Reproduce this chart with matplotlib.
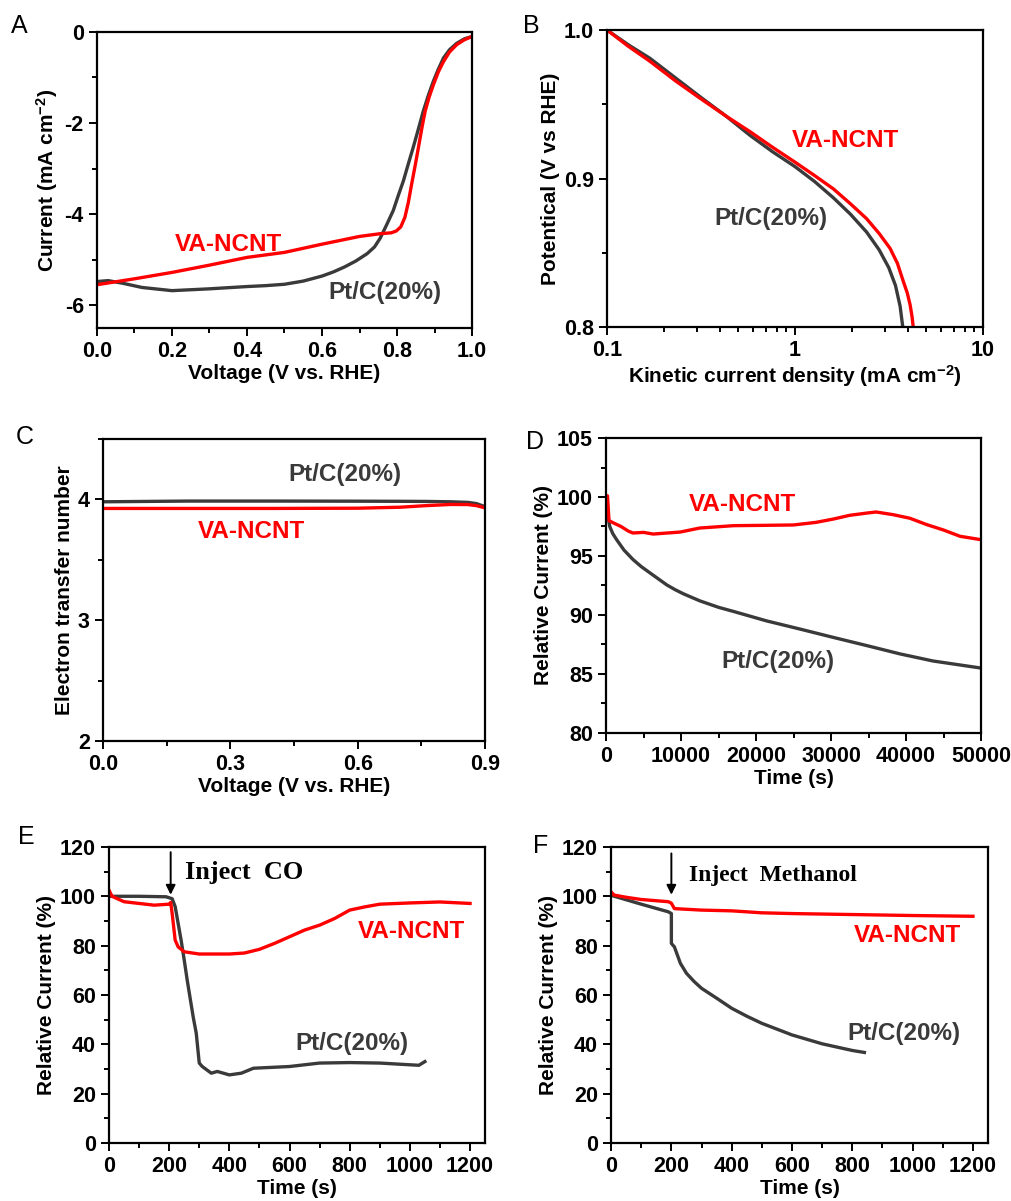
import matplotlib
matplotlib.use("Agg")
import matplotlib.pyplot as plt
import matplotlib.ticker as ticker

# --- Data --------------------------------------------------------------------

# A: LSV curves
a_ncnt_v = [0.0, 0.1, 0.2, 0.3, 0.4, 0.5, 0.6, 0.7, 0.755, 0.785, 0.798, 0.81,
            0.821, 0.83, 0.839, 0.848, 0.857, 0.866, 0.875, 0.886, 0.897, 0.91,
            0.924, 0.94, 0.959, 0.98, 1.0]
a_ncnt_i = [-5.55, -5.42, -5.28, -5.12, -4.95, -4.84, -4.66, -4.49, -4.43, -4.41,
            -4.37, -4.28, -4.07, -3.75, -3.34, -2.95, -2.54, -2.12, -1.74, -1.42,
            -1.16, -0.88, -0.65, -0.44, -0.28, -0.17, -0.1]
a_pt_v = [0.0, 0.03, 0.07, 0.12, 0.2, 0.3, 0.4, 0.45, 0.5, 0.55, 0.6, 0.63, 0.66,
          0.69, 0.72, 0.74, 0.755, 0.772, 0.79, 0.803, 0.817, 0.83, 0.843, 0.857,
          0.87, 0.884, 0.897, 0.91, 0.924, 0.94, 0.959, 0.98, 1.0]
a_pt_i = [-5.48, -5.46, -5.52, -5.61, -5.68, -5.64, -5.59, -5.57, -5.54, -5.47,
          -5.36, -5.27, -5.16, -5.03, -4.87, -4.72, -4.53, -4.24, -3.92, -3.6,
          -3.27, -2.9, -2.54, -2.13, -1.74, -1.38, -1.08, -0.82, -0.57, -0.39,
          -0.25, -0.15, -0.1]

# B: Tafel-type plot
b_ncnt_j = [0.1, 0.13, 0.169, 0.23, 0.313, 0.43, 0.577, 0.76, 1.0, 1.27, 1.6,
            1.97, 2.4, 2.8, 3.2, 3.5, 3.77, 3.95, 4.09, 4.19, 4.25]
b_ncnt_e = [1.0, 0.989, 0.979, 0.966, 0.954, 0.942, 0.9315, 0.921, 0.911, 0.902,
            0.893, 0.883, 0.873, 0.863, 0.853, 0.843, 0.8305, 0.823, 0.815, 0.807, 0.8]
b_pt_j = [0.1, 0.13, 0.169, 0.23, 0.313, 0.43, 0.577, 0.76, 1.0, 1.27, 1.6, 1.97,
          2.4, 2.8, 3.15, 3.42, 3.62, 3.74]
b_pt_e = [1.0, 0.99, 0.981, 0.968, 0.955, 0.942, 0.929, 0.918, 0.908, 0.898,
          0.887, 0.876, 0.864, 0.852, 0.84, 0.828, 0.814, 0.8]

# C: electron transfer number
c_v = [0.0, 0.2, 0.4, 0.6, 0.7, 0.76, 0.82, 0.86, 0.88, 0.9]
c_ncnt_n = [3.925, 3.925, 3.925, 3.927, 3.935, 3.948, 3.958, 3.957, 3.948, 3.93]
c_pt_n = [3.98, 3.986, 3.986, 3.985, 3.984, 3.983, 3.98, 3.975, 3.965, 3.94]

# D: durability
d_ncnt_t = [0, 200, 400, 1000, 2000, 3000, 3600, 5000, 6300, 9900, 12500, 17000,
            21400, 25000, 28000, 30300, 32500, 34800, 36000, 38300, 40500, 42800,
            45000, 47200, 50000]
d_ncnt_r = [100.1, 100.1, 98.0, 97.8, 97.5, 97.1, 96.95, 97.0, 96.86, 97.03, 97.37,
            97.57, 97.6, 97.63, 97.85, 98.13, 98.45, 98.64, 98.73, 98.5, 98.2,
            97.65, 97.2, 96.67, 96.38]
d_pt_t = [0, 200, 500, 900, 1400, 2400, 3600, 4700, 5900, 7000, 8100, 9200, 10300,
          12500, 15000, 17000, 21400, 25900, 30300, 34800, 39200, 43600, 50000]
d_pt_r = [100.0, 98.6, 97.5, 96.9, 96.4, 95.5, 94.7, 94.1, 93.55, 93.05, 92.55,
          92.15, 91.8, 91.2, 90.65, 90.3, 89.5, 88.8, 88.1, 87.4, 86.7, 86.1, 85.5]

# E: CO tolerance
e_ncnt_t = [0, 10, 50, 100, 150, 200, 205, 210, 220, 230, 250, 300, 400, 450, 500,
            550, 600, 650, 700, 750, 800, 850, 900, 1000, 1100, 1200]
e_ncnt_r = [102.5, 100.0, 97.8, 97.1, 96.4, 96.8, 97.5, 93.0, 82.2, 79.5, 77.5, 76.6,
            76.6, 77.0, 78.5, 80.9, 83.6, 86.3, 88.3, 91.0, 94.4, 95.7, 96.8, 97.3,
            97.7, 97.1]
e_pt_t = [0, 100, 190, 210, 220, 240, 250, 260, 280, 290, 300, 310, 340, 360, 400,
          440, 480, 600, 700, 800, 900, 1000, 1030, 1050]
e_pt_r = [100.0, 100.0, 99.8, 99.0, 95.8, 82.0, 74.2, 66.0, 51.0, 44.5, 32.4, 31.0,
          28.3, 29.0, 27.6, 28.3, 30.3, 31.0, 32.4, 32.6, 32.4, 31.7, 31.5, 33.0]

# F: methanol tolerance
f_ncnt_t = [0, 10, 50, 100, 190, 200, 210, 300, 400, 500, 600, 800, 1000, 1200]
f_ncnt_r = [101.8, 100.5, 99.6, 98.7, 97.8, 97.2, 95.0, 94.4, 94.1, 93.3, 93.0,
            92.6, 92.2, 91.9]
f_pt_t = [0, 100, 190, 200, 200, 210, 230, 250, 275, 300, 350, 400, 450, 500,
          600, 700, 800, 840]
f_pt_r = [100.4, 96.8, 93.7, 93.0, 80.9, 79.5, 72.8, 68.8, 65.5, 62.7, 58.7, 54.6,
          51.4, 48.5, 43.8, 40.2, 37.5, 36.7]

# --- Style -------------------------------------------------------------------

RED = "#FF0000"
GRAY = "#3A3A3A"
LW = 2.4
TICK_SIZE = 15.5
LABEL_SIZE = 15
SERIES_SIZE = 17.5

plt.rcParams["font.family"] = ["Liberation Sans", "DejaVu Sans"]
plt.rcParams["font.weight"] = "bold"
plt.rcParams["mathtext.fontset"] = "custom"
plt.rcParams["mathtext.rm"] = "Liberation Sans:bold"
plt.rcParams["mathtext.bf"] = "Liberation Sans:bold"
plt.rcParams["mathtext.default"] = "rm"


def style_axis(ax, xlabel, ylabel):
    for spine in ax.spines.values():
        spine.set_linewidth(1.6)
    ax.tick_params(which="both", direction="out", width=1.4, labelsize=TICK_SIZE,
                   top=False, right=False)
    ax.tick_params(which="major", length=6)
    ax.tick_params(which="minor", length=3.5)
    for lbl in ax.get_xticklabels() + ax.get_yticklabels():
        lbl.set_fontweight("bold")
    ax.set_xlabel(xlabel, fontsize=LABEL_SIZE, fontweight="bold", labelpad=1)
    ax.set_ylabel(ylabel, fontsize=LABEL_SIZE, fontweight="bold", labelpad=3)


def series_label(ax, x, y, text, color):
    ax.text(x, y, text, color=color, fontsize=SERIES_SIZE, fontweight="bold",
            ha="center", va="center")


def panel_letter(fig, x, y, letter):
    fig.text(x / 1011, 1 - y / 1201, letter, fontsize=18, fontweight="normal",
             ha="left", va="top")


def time_axis(ax):
    ax.set_xlim(0, 1250)
    ax.set_ylim(0, 120)
    ax.xaxis.set_major_locator(ticker.MultipleLocator(200))
    ax.xaxis.set_minor_locator(ticker.MultipleLocator(100))
    ax.yaxis.set_major_locator(ticker.MultipleLocator(20))
    ax.yaxis.set_minor_locator(ticker.MultipleLocator(10))


fig = plt.figure(figsize=(10.11, 12.01), dpi=100)

# --- A -----------------------------------------------------------------------
ax = fig.add_axes([0.0959, 0.7269, 0.371, 0.2465])
ax.plot(a_pt_v, a_pt_i, color=GRAY, lw=LW)
ax.plot(a_ncnt_v, a_ncnt_i, color=RED, lw=LW)
ax.set_xlim(0, 1.0)
ax.set_ylim(-6.5, 0)
ax.xaxis.set_major_locator(ticker.MultipleLocator(0.2))
ax.xaxis.set_minor_locator(ticker.MultipleLocator(0.1))
ax.yaxis.set_major_locator(ticker.MultipleLocator(2))
ax.yaxis.set_minor_locator(ticker.MultipleLocator(1))
ax.xaxis.set_major_formatter(ticker.FormatStrFormatter("%.1f"))
ax.yaxis.set_major_formatter(ticker.FuncFormatter(lambda v, p: f"{int(v)}"))
style_axis(ax, "Voltage (V vs. RHE)", "Current (mA cm$^{-2}$)")
series_label(ax, 0.351, -4.66, "VA-NCNT", RED)
series_label(ax, 0.769, -5.72, "Pt/C(20%)", GRAY)
panel_letter(fig, 11, 14, "A")

# --- B -----------------------------------------------------------------------
ax = fig.add_axes([0.6004, 0.7277, 0.372, 0.2473])
ax.plot(b_pt_j, b_pt_e, color=GRAY, lw=LW)
ax.plot(b_ncnt_j, b_ncnt_e, color=RED, lw=LW)
ax.set_xscale("log")
ax.set_xlim(0.1, 10)
ax.set_ylim(0.8, 1.0)
ax.xaxis.set_major_formatter(ticker.FuncFormatter(lambda v, p: f"{v:g}"))
ax.yaxis.set_major_locator(ticker.MultipleLocator(0.1))
ax.yaxis.set_minor_locator(ticker.MultipleLocator(0.05))
ax.yaxis.set_major_formatter(ticker.FormatStrFormatter("%.1f"))
style_axis(ax, "Kinetic current density (mA cm$^{-2}$)", "Potentical (V vs RHE)")
series_label(ax, 1.86, 0.9254, "VA-NCNT", RED)
series_label(ax, 0.743, 0.873, "Pt/C(20%)", GRAY)
panel_letter(fig, 523, 14, "B")

# --- C -----------------------------------------------------------------------
ax = fig.add_axes([0.1019, 0.383, 0.3778, 0.2515])
ax.plot(c_v, c_pt_n, color=GRAY, lw=LW)
ax.plot(c_v, c_ncnt_n, color=RED, lw=LW)
ax.set_xlim(0, 0.9)
ax.set_ylim(2, 4.5)
ax.xaxis.set_major_locator(ticker.MultipleLocator(0.3))
ax.xaxis.set_minor_locator(ticker.MultipleLocator(0.15))
ax.yaxis.set_major_locator(ticker.MultipleLocator(1))
ax.yaxis.set_minor_locator(ticker.MultipleLocator(0.5))
ax.xaxis.set_major_formatter(ticker.FormatStrFormatter("%.1f"))
ax.yaxis.set_major_formatter(ticker.FormatStrFormatter("%d"))
style_axis(ax, "Voltage (V vs. RHE)", "Electron transfer number")
series_label(ax, 0.570, 4.21, "Pt/C(20%)", GRAY)
series_label(ax, 0.35, 3.735, "VA-NCNT", RED)
panel_letter(fig, 16, 425, "C")

# --- D -----------------------------------------------------------------------
ax = fig.add_axes([0.5994, 0.3897, 0.371, 0.2456])
ax.plot(d_pt_t, d_pt_r, color=GRAY, lw=LW)
ax.plot(d_ncnt_t, d_ncnt_r, color=RED, lw=LW)
ax.set_xlim(0, 50000)
ax.set_ylim(80, 105)
ax.xaxis.set_major_locator(ticker.MultipleLocator(10000))
ax.xaxis.set_minor_locator(ticker.MultipleLocator(5000))
ax.yaxis.set_major_locator(ticker.MultipleLocator(5))
ax.yaxis.set_minor_locator(ticker.MultipleLocator(2.5))
style_axis(ax, "Time (s)", "Relative Current (%)")
series_label(ax, 18180, 99.35, "VA-NCNT", RED)
series_label(ax, 22980, 86.07, "Pt/C(20%)", GRAY)
panel_letter(fig, 526, 430, "D")

# --- E -----------------------------------------------------------------------
ax = fig.add_axes([0.1078, 0.0483, 0.372, 0.2465])
ax.plot(e_pt_t, e_pt_r, color=GRAY, lw=LW)
ax.plot(e_ncnt_t, e_ncnt_r, color=RED, lw=LW)
time_axis(ax)
style_axis(ax, "Time (s)", "Relative Current (%)")
ax.annotate("", xy=(205, 99.5), xytext=(205, 119),
            arrowprops=dict(arrowstyle="-|>", color="black", lw=1.4, mutation_scale=14))
ax.text(252, 109.5, "Inject  CO", family=["Liberation Serif"], fontsize=19,
        fontweight="bold", ha="left", va="center")
series_label(ax, 1004, 85.6, "VA-NCNT", RED)
series_label(ax, 806, 40.4, "Pt/C(20%)", GRAY)
panel_letter(fig, 18, 825, "E")

# --- F -----------------------------------------------------------------------
ax = fig.add_axes([0.6044, 0.0483, 0.3729, 0.2465])
ax.plot(f_pt_t, f_pt_r, color=GRAY, lw=LW)
ax.plot(f_ncnt_t, f_ncnt_r, color=RED, lw=LW)
time_axis(ax)
style_axis(ax, "Time (s)", "Relative Current (%)")
ax.annotate("", xy=(200, 99.5), xytext=(200, 118.5),
            arrowprops=dict(arrowstyle="-|>", color="black", lw=1.4, mutation_scale=14))
ax.text(257, 108.5, "Inject  Methanol", family=["Liberation Serif"], fontsize=17,
        fontweight="bold", ha="left", va="center")
series_label(ax, 983, 84.3, "VA-NCNT", RED)
series_label(ax, 970, 44.5, "Pt/C(20%)", GRAY)
panel_letter(fig, 533, 834, "F")

fig.savefig("out.png", dpi=100, facecolor="white")
plt.close(fig)
